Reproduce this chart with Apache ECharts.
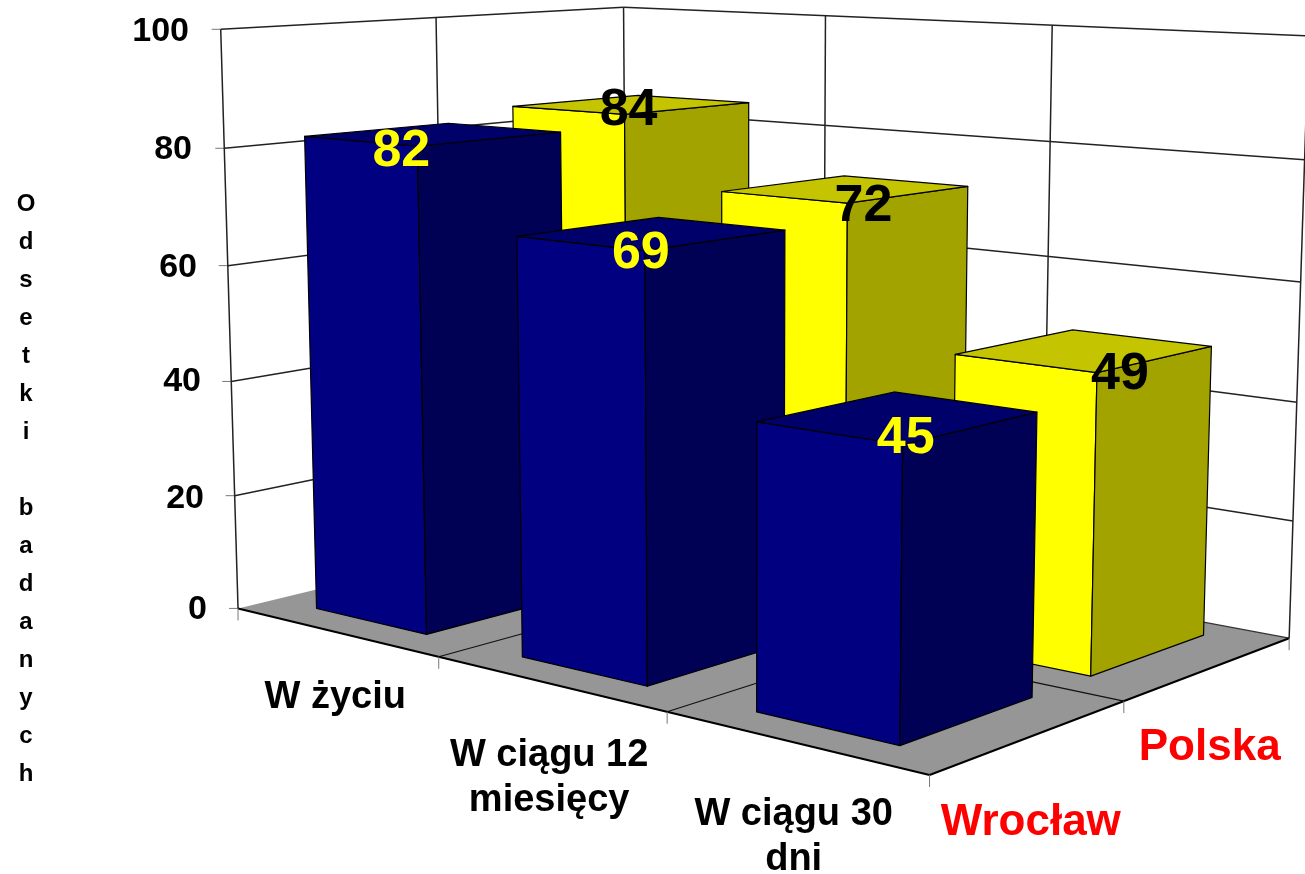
<!DOCTYPE html>
<html>
<head>
<meta charset="utf-8">
<style>html,body{margin:0;padding:0;background:#fff}#main{width:1305px;height:874px}</style>
<script src="https://cdn.jsdelivr.net/npm/echarts@6/dist/echarts.min.js"></script>
</head>
<body>
<div id="main"></div>
<script>
// data
var categories = ['W życiu', 'W ciągu 12\nmiesięcy', 'W ciągu 30\ndni'];
var polska = [84, 72, 49];
var wroclaw = [82, 69, 45];
var yTicks = [0, 20, 40, 60, 80, 100];
var yAxisTitle = 'Odsetki badanych';

// layout of the fake 3d box: [u, w, value, x, y]
var calibration = [
  [0, 0, 0, 238, 608], [1, 0, 0, 439, 658], [2, 0, 0, 668, 712], [3, 0, 0, 929, 775],
  [3, 1, 0, 1123, 701], [3, 2, 0, 1290, 638], [0, 2, 0, 626, 514],
  [0, 0, 100, 219.5, 29], [0, 1, 100, 436, 18], [0, 2, 100, 624, 7],
  [1, 2, 100, 825.5, 16], [2, 2, 100, 1052, 25], [3, 2, 100, 1308, 35],
  [0, 0, 80, 225, 148], [0, 0, 20, 235, 495], [1, 2, 80, 825.5, 126], [2, 2, 80, 1050.6, 142]
];
var gapLeft = 0.21, gapRight = 0.24, gapFront = 0.175, gapBack = 0.15;
var tickInset = {0: 0, 20: 3, 40: 6, 60: 10, 80: 15, 100: 18};
var tickDrop = {0: 4, 20: 12, 40: 10, 60: 12, 80: 8, 100: 4};
var categoryDrop = [43, 50, 50];
var polskaLabelShift = [[4, -4], [16, 4], [23, 2]];
var wroclawLabelShift = [[-16, 5], [-4, 3], [3, -6]];

// least squares camera matrix
function solveCamera(pts) {
  var n = 11, A = [], i, j, k;
  for (i = 0; i < n; i++) { A.push(new Array(n + 1).fill(0)); }
  function add(row, rhs) {
    for (var a = 0; a < n; a++) {
      for (var b = 0; b < n; b++) { A[a][b] += row[a] * row[b]; }
      A[a][n] += row[a] * rhs;
    }
  }
  pts.forEach(function (p) {
    var u = p[0], w = p[1], z = p[2] / 100, x = p[3] / 1000, y = p[4] / 1000;
    add([u, w, z, 1, 0, 0, 0, 0, -x * u, -x * w, -x * z], x);
    add([0, 0, 0, 0, u, w, z, 1, -y * u, -y * w, -y * z], y);
  });
  for (i = 0; i < n; i++) {
    var best = i;
    for (k = i + 1; k < n; k++) { if (Math.abs(A[k][i]) > Math.abs(A[best][i])) best = k; }
    var t = A[i]; A[i] = A[best]; A[best] = t;
    for (k = 0; k < n; k++) {
      if (k === i) continue;
      var f = A[k][i] / A[i][i];
      for (j = i; j <= n; j++) { A[k][j] -= f * A[i][j]; }
    }
  }
  return A.map(function (r, idx) { return r[n] / r[idx]; });
}
var cam = solveCamera(calibration);

function project(u, w, v) {
  var z = v / 100;
  var d = cam[8] * u + cam[9] * w + cam[10] * z + 1;
  return [
    1000 * (cam[0] * u + cam[1] * w + cam[2] * z + cam[3]) / d,
    1000 * (cam[4] * u + cam[5] * w + cam[6] * z + cam[7]) / d
  ];
}

function lineEl(a, b, color, width) {
  return {
    type: 'line',
    shape: {x1: a[0], y1: a[1], x2: b[0], y2: b[1]},
    style: {stroke: color, lineWidth: width}
  };
}
function polyEl(points, fill) {
  return {
    type: 'polygon',
    shape: {points: points},
    style: {fill: fill, stroke: '#000', lineWidth: 1.2, lineJoin: 'round'}
  };
}

// axis value back to a height through the y axis scale
function heightOf(api, v) {
  var y0 = api.coord([0, 0])[1];
  var y100 = api.coord([0, 100])[1];
  return (y0 - api.coord([0, v])[1]) / (y0 - y100) * 100;
}

function renderBox(params, api) {
  var kids = [];
  var line = '#222';
  var floor = [project(0, 0, 0), project(3, 0, 0), project(3, 2, 0), project(0, 2, 0)];
  kids.push({type: 'polygon', shape: {points: floor}, style: {fill: '#969696'}});
  var i;
  // walls
  yTicks.forEach(function (t) {
    var h = heightOf(api, t);
    if (t > 0) {
      kids.push(lineEl(project(0, 0, h), project(0, 2, h), line, 1.5));
      kids.push(lineEl(project(0, 2, h), project(3, 2, h), line, 1.5));
    }
    var p = project(0, 0, h);
    kids.push(lineEl([p[0] - 9, p[1]], p, '#777', 1));
  });
  kids.push(lineEl(project(0, 0, 0), project(0, 0, 100), line, 1.5));
  kids.push(lineEl(project(0, 1, 0), project(0, 1, 100), line, 1.5));
  kids.push(lineEl(project(0, 2, 0), project(0, 2, 100), line, 1.5));
  kids.push(lineEl(project(1, 2, 0), project(1, 2, 100), line, 1.5));
  kids.push(lineEl(project(2, 2, 0), project(2, 2, 100), line, 1.5));
  kids.push(lineEl(project(3, 2, 0), project(3, 2, 100), line, 1.5));
  // floor lines
  for (i = 1; i < 3; i++) {
    kids.push(lineEl(project(i, 0, 0), project(i, 2, 0), '#111', 1.2));
  }
  kids.push(lineEl(project(0, 1, 0), project(3, 1, 0), '#111', 1.2));
  kids.push(lineEl(project(0, 2, 0), project(3, 2, 0), '#333', 1.2));
  kids.push(lineEl(project(0, 0, 0), project(3, 0, 0), '#000', 2));
  kids.push(lineEl(project(3, 0, 0), project(3, 2, 0), '#000', 2));
  // ticks under the floor
  [[0, 0], [1, 0], [2, 0], [3, 0], [3, 1], [3, 2]].forEach(function (c) {
    var p = project(c[0], c[1], 0);
    kids.push(lineEl(p, [p[0], p[1] + 12], '#777', 1));
  });
  // category names and series names
  categories.forEach(function (name, k) {
    var p = project(k + 0.5, 0, 0);
    kids.push({
      type: 'text',
      style: {
        x: p[0], y: p[1] + categoryDrop[k], text: name, fill: '#000', align: 'center', verticalAlign: 'top',
        font: 'bold 38px "Liberation Sans"', lineHeight: 45
      }
    });
  });
  var a = project(3, 1.5, 0), b = project(3, 0.5, 0);
  kids.push({type: 'text', style: {x: a[0], y: a[1] + 79, text: 'Polska', fill: '#ff0000', align: 'center', verticalAlign: 'middle', font: 'bold 44px "Liberation Sans"'}});
  kids.push({type: 'text', style: {x: b[0], y: b[1] + 86, text: 'Wrocław', fill: '#ff0000', align: 'center', verticalAlign: 'middle', font: 'bold 44px "Liberation Sans"'}});
  return {type: 'group', children: kids};
}

function barRenderer(depth, colors, labelColor, shifts) {
  return function (params, api) {
    var cat = api.value(0);
    var val = api.value(1);
    var h = heightOf(api, val);
    var u0 = cat + gapLeft, u1 = cat + 1 - gapRight;
    var w0 = depth + gapFront, w1 = depth + 1 - gapBack;
    var front = project(u1, w0, h);
    var kids = [
      polyEl([project(u0, w0, 0), project(u1, w0, 0), front, project(u0, w0, h)], colors[0]),
      polyEl([project(u1, w0, 0), project(u1, w1, 0), project(u1, w1, h), front], colors[1]),
      polyEl([project(u0, w0, h), front, project(u1, w1, h), project(u0, w1, h)], colors[2]),
      {
        type: 'text',
        style: {
          x: front[0] + shifts[cat][0], y: front[1] + shifts[cat][1], text: String(val), fill: labelColor,
          align: 'center', verticalAlign: 'middle', font: 'bold 52px "Liberation Sans"'
        }
      }
    ];
    return {type: 'group', children: kids};
  };
}

function toPairs(values) {
  return values.map(function (v, i) { return [i, v]; });
}

var chart = echarts.init(document.getElementById('main'), null, {renderer: 'canvas'});
var rich = {};
yTicks.forEach(function (t) {
  rich['t' + t] = {
    fontFamily: 'Liberation Sans', fontWeight: 'bold', fontSize: 34, color: '#000',
    padding: [tickDrop[t], tickInset[t], 0, 0]
  };
});

chart.setOption({
  backgroundColor: '#ffffff',
  animation: false,
  grid: {left: 207, right: 100, top: 30, bottom: 266},
  xAxis: {type: 'category', data: categories, show: false},
  yAxis: {
    type: 'value', min: 0, max: 100, interval: 20,
    axisLine: {show: false}, axisTick: {show: false}, splitLine: {show: false},
    axisLabel: {
      margin: 0,
      formatter: function (v) { return '{t' + v + '|' + v + '}'; },
      rich: rich
    }
  },
  graphic: [{
    type: 'text',
    x: 26,
    y: 185,
    style: {
      text: yAxisTitle.split('').join('\n'), fill: '#000', align: 'center',
      font: 'bold 24px "Liberation Sans"', lineHeight: 38
    }
  }],
  series: [
    {type: 'custom', coordinateSystem: 'cartesian2d', renderItem: renderBox, data: [[0, 0]], silent: true, z: 1},
    {
      type: 'custom', name: 'Polska', coordinateSystem: 'cartesian2d', z: 2, clip: false, silent: true,
      renderItem: barRenderer(1, ['#ffff00', '#a3a300', '#c4c400'], '#000', polskaLabelShift),
      data: toPairs(polska)
    },
    {
      type: 'custom', name: 'Wrocław', coordinateSystem: 'cartesian2d', z: 3, clip: false, silent: true,
      renderItem: barRenderer(0, ['#000080', '#000055', '#00006a'], '#ffff00', wroclawLabelShift),
      data: toPairs(wroclaw)
    }
  ]
});
</script>
</body>
</html>
